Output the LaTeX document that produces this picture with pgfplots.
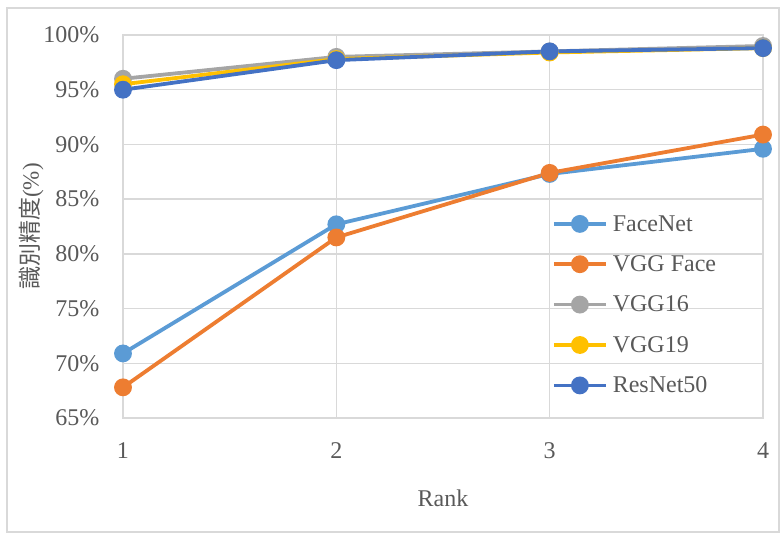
\documentclass[border=0pt]{standalone}
\usepackage{pgfplots}
\pgfplotsset{compat=1.18}
\usepackage{fontspec}
\setmainfont{Liberation Serif}
\newfontfamily\cjk{Noto Sans CJK JP}
\definecolor{gridgray}{HTML}{D9D9D9}
\definecolor{txt}{HTML}{595959}
\definecolor{cFace}{HTML}{5B9BD5}
\definecolor{cVGGF}{HTML}{ED7D31}
\definecolor{cV16}{HTML}{A5A5A5}
\definecolor{cV19}{HTML}{FFC000}
\definecolor{cRes}{HTML}{4472C4}
\begin{document}
\begin{tikzpicture}[x=1pt,y=1pt]
\path[use as bounding box] (-123,-117) rectangle (658,418);
\draw[gridgray, line width=1.2pt] (-116,-114) rectangle (656,410);
\begin{axis}[
  at={(0,0)}, anchor=south west,
  scale only axis, width=640pt, height=383pt,
  xmin=1, xmax=4, ymin=65, ymax=100,
  xtick={1,2,3,4}, ytick={65,70,...,100},
  yticklabel={\pgfmathprintnumber{\tick}\%},
  /pgf/number format/assume math mode=true,
  grid=major,
  major grid style={gridgray, line width=1.4pt},
  axis line style={gridgray, line width=1.4pt},
  major tick length=0pt,
  tick label style={font=\fontsize{24}{28}\selectfont, text=txt},
  xticklabel style={yshift=-21pt},
  yticklabel style={xshift=-20pt},
  xlabel={Rank},
  xlabel style={font=\fontsize{24}{28}\selectfont, text=txt, yshift=-24pt},
  ylabel={\cjk 識別精度}(\%),
  ylabel style={font=\fontsize{23}{28}\selectfont, text=txt, yshift=-7pt},
  clip=false,
  every axis plot/.append style={line width=3.8pt, mark=*, mark size=7pt, mark options={solid}},
  legend style={at={(0.67,0.535)}, anchor=north west, draw=none, fill=none,
    font=\fontsize{24}{28}\selectfont, text=txt, row sep=19pt, inner sep=0pt,
    nodes={inner xsep=5pt}},
  legend cell align=left,
  legend image code/.code={
    \draw[#1, line width=3.8pt] (0pt,0pt) -- (52pt,0pt);
    \fill[#1] (26pt,0pt) circle (7pt);
  },
]
\addplot[color=cFace] coordinates {(1,70.9) (2,82.7) (3,87.3) (4,89.6)};
\addlegendentry{FaceNet}
\addplot[color=cVGGF] coordinates {(1,67.8) (2,81.5) (3,87.4) (4,90.9)};
\addlegendentry{VGG Face}
\addplot[color=cV16] coordinates {(1,96.0) (2,98.0) (3,98.5) (4,99.0)};
\addlegendentry{VGG16}
\addplot[color=cV19] coordinates {(1,95.5) (2,97.8) (3,98.4) (4,98.8)};
\addlegendentry{VGG19}
\addplot[color=cRes] coordinates {(1,95.0) (2,97.7) (3,98.5) (4,98.8)};
\addlegendentry{ResNet50}
\end{axis}
\end{tikzpicture}
\end{document}
